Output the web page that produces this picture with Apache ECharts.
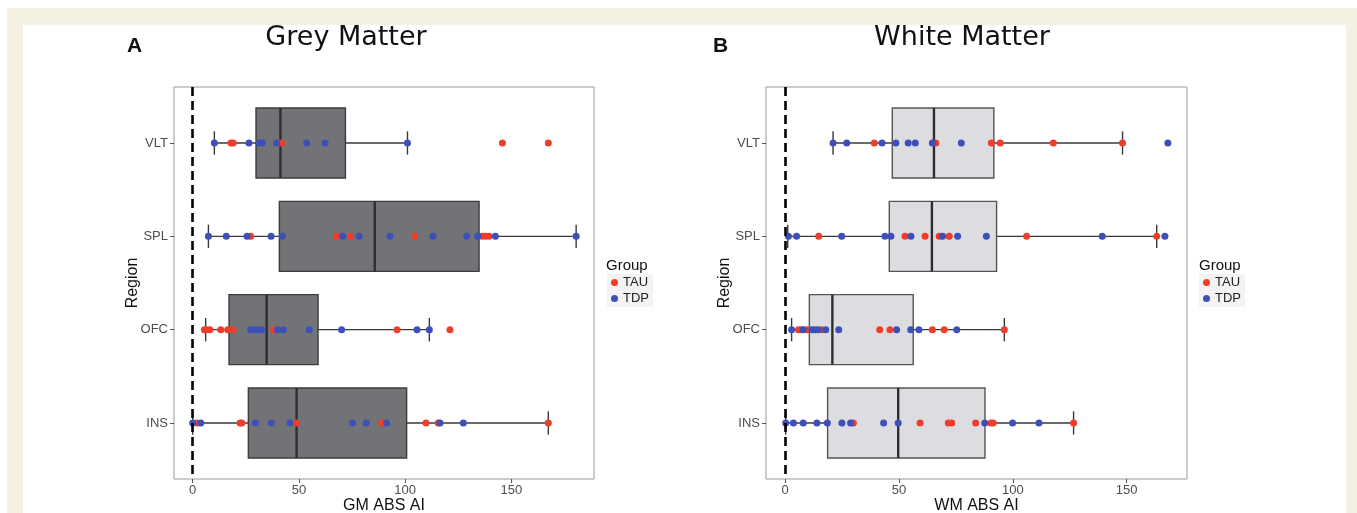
<!DOCTYPE html>
<html>
<head>
<meta charset="utf-8">
<script src="https://cdn.jsdelivr.net/npm/echarts@6/dist/echarts.min.js"></script>
<style>
  html, body { margin: 0; padding: 0; background: #fff; }
  #chart { width: 1357px; height: 513px; }
</style>
</head>
<body>
<div id="chart"></div>
<script>
// regions, top to bottom
var regions = ['VLT', 'SPL', 'OFC', 'INS'];
var xTicks = [0, 50, 100, 150];

// box stats per region: [whisker low, q1, median, q3, whisker high]
var gmBox = [
  [10.2, 29.8, 41.3, 71.9, 101.1],
  [7.4, 40.8, 85.7, 134.8, 180.5],
  [6.1, 17.1, 34.8, 59.0, 111.4],
  [0, 26.2, 48.9, 100.7, 167.4]
];
var wmBox = [
  [21.1, 47.1, 65.4, 91.7, 148.2],
  [1.2, 45.8, 64.5, 92.9, 163.2],
  [2.9, 10.7, 20.8, 56.3, 96.3],
  [0.3, 18.7, 49.7, 87.8, 126.7]
];

// individual values per region (same order as regions)
var gmTau = [
  [18.0, 19.1, 40.6, 41.9, 145.8, 167.4],
  [27.3, 67.6, 74.2, 104.5, 136.1, 137.9, 139.5],
  [5.5, 6.6, 8.1, 13.2, 16.5, 19.0, 38.1, 96.2, 121.1],
  [1.9, 22.3, 23.1, 48.9, 89.0, 109.8, 115.6, 167.4]
];
var gmTdp = [
  [10.2, 26.5, 31.4, 32.8, 39.5, 53.7, 62.3, 101.1],
  [7.4, 15.8, 25.6, 36.9, 42.2, 70.6, 78.3, 92.9, 113.1, 129.0, 134.2, 142.5, 180.5],
  [27.3, 28.9, 30.4, 32.5, 40.0, 42.7, 54.9, 70.1, 105.6, 111.4],
  [0, 3.8, 29.5, 37.0, 45.8, 75.3, 81.7, 91.3, 116.4, 127.4]
];
var wmTau = [
  [39.2, 66.2, 90.6, 94.5, 117.8, 148.2],
  [14.8, 52.7, 61.5, 67.7, 72.1, 106.1, 163.2],
  [5.9, 7.0, 9.8, 16.1, 41.6, 46.1, 64.7, 69.9, 96.3],
  [30.0, 59.3, 71.7, 73.2, 83.7, 90.4, 91.4, 126.7]
];
var wmTdp = [
  [21.1, 27.1, 42.6, 48.7, 54.1, 57.2, 64.7, 77.4, 168.1],
  [1.5, 5.1, 24.9, 43.9, 46.5, 55.3, 69.2, 75.8, 88.4, 139.3, 166.8],
  [2.9, 8.0, 11.9, 13.3, 14.6, 17.9, 23.6, 49.0, 55.2, 58.8, 75.4],
  [0.3, 3.7, 8.0, 14.0, 18.6, 25.0, 28.8, 43.3, 49.7, 87.7, 99.9, 111.5]
];

var TAU_COLOR = '#f03d2b';
var TDP_COLOR = '#3d4fb8';
var FONT = 'Liberation Sans, Arial, sans-serif';

function toPoints(groups) {
  var out = [];
  groups.forEach(function (vals, i) {
    vals.forEach(function (v) { out.push([v, i]); });
  });
  return out;
}
function toBoxes(stats) {
  return stats.map(function (s, i) { return [i].concat(s); });
}

function boxRenderer(fill, edge) {
  return function (params, api) {
    var cat = api.value(0);
    var p = function (k) { return api.coord([api.value(k), cat]); };
    var band = Math.abs(api.size([0, 1])[1]);
    var h = band * 0.375, cap = band * 0.125;
    var lo = p(1), q1 = p(2), md = p(3), q3 = p(4), hi = p(5);
    var y = lo[1];
    var ws = { stroke: '#3a3a3a', lineWidth: 1.4 };
    return {
      type: 'group',
      children: [
        { type: 'line', shape: { x1: lo[0], y1: y, x2: hi[0], y2: y }, style: ws },
        { type: 'line', shape: { x1: lo[0], y1: y - cap, x2: lo[0], y2: y + cap }, style: ws },
        { type: 'line', shape: { x1: hi[0], y1: y - cap, x2: hi[0], y2: y + cap }, style: ws },
        { type: 'rect', shape: { x: q1[0], y: y - h, width: q3[0] - q1[0], height: 2 * h },
          style: { fill: fill, stroke: edge, lineWidth: 1.4 } },
        { type: 'line', shape: { x1: md[0], y1: y - h, x2: md[0], y2: y + h },
          style: { stroke: '#2e2e2e', lineWidth: 2.4 } }
      ]
    };
  };
}

function xAxisOf(grid, min, max, name) {
  return {
    type: 'value', gridIndex: grid, min: min, max: max,
    name: name, nameLocation: 'middle', nameGap: 19, nameMoveOverlap: false,
    nameTextStyle: { fontSize: 16, color: '#111', fontFamily: FONT },
    axisLine: { show: false, onZero: false },
    axisTick: { show: true, customValues: xTicks, length: 4, lineStyle: { color: '#555' } },
    axisLabel: { customValues: xTicks, margin: 5, fontSize: 13, color: '#4d4d4d', fontFamily: FONT },
    splitLine: { show: false }
  };
}
function yAxisOf(grid) {
  return {
    type: 'value', gridIndex: grid, min: -0.6, max: 3.6, inverse: true,
    name: 'Region', nameLocation: 'middle', nameGap: 33, nameMoveOverlap: false,
    nameTextStyle: { fontSize: 16, color: '#111', fontFamily: FONT },
    axisLine: { show: false, onZero: false },
    axisTick: { show: true, customValues: [0, 1, 2, 3], length: 4, lineStyle: { color: '#555' } },
    axisLabel: {
      customValues: [0, 1, 2, 3], margin: 6, fontSize: 13, color: '#4d4d4d', fontFamily: FONT,
      formatter: function (v) { return regions[Math.round(v)]; }
    },
    splitLine: { show: false }
  };
}

function panelSeries(idx, box, tau, tdp, fill, edge) {
  return [
    {
      type: 'custom', xAxisIndex: idx, yAxisIndex: idx, z: 2,
      renderItem: boxRenderer(fill, edge),
      encode: { x: [1, 2, 3, 4, 5], y: 0 },
      data: toBoxes(box), silent: true
    },
    {
      name: 'TAU', type: 'scatter', xAxisIndex: idx, yAxisIndex: idx, z: 3,
      symbolSize: 7, itemStyle: { color: TAU_COLOR, opacity: 1 },
      data: toPoints(tau)
    },
    {
      name: 'TDP', type: 'scatter', xAxisIndex: idx, yAxisIndex: idx, z: 3,
      symbolSize: 7, itemStyle: { color: TDP_COLOR, opacity: 1 },
      data: toPoints(tdp),
      markLine: {
        silent: true, symbol: 'none', animation: false,
        label: { show: false },
        lineStyle: { color: '#000', type: [9, 5], width: 2.6 },
        data: [{ xAxis: 0 }]
      }
    }
  ];
}

function legendAt(left, top) {
  return {
    left: left, top: top, orient: 'vertical', icon: 'circle',
    itemWidth: 7, itemHeight: 7, itemGap: 3, padding: [2, 4],
    backgroundColor: '#f3f3f3',
    data: ['TAU', 'TDP'],
    textStyle: { fontSize: 13, color: '#222', fontFamily: FONT }
  };
}

function label(x, y, text, size, weight, family, align) {
  return {
    type: 'text', x: x, y: y, silent: true,
    style: { text: text, fontSize: size, fontWeight: weight, fontFamily: family,
      fill: '#111', align: align, verticalAlign: 'middle' }
  };
}

var gridBase = { top: 87, height: 392, show: true, borderColor: '#999', borderWidth: 1,
  backgroundColor: '#fff', outerBoundsMode: 'none', containLabel: false };

var chart = echarts.init(document.getElementById('chart'));
chart.setOption({
  animation: false,
  backgroundColor: '#ffffff',
  graphic: [
    { type: 'rect', shape: { x: 7, y: 8, width: 1350, height: 505 }, style: { fill: '#f4f1e3' }, silent: true, z: -10 },
    { type: 'rect', shape: { x: 23, y: 25, width: 1323, height: 488 }, style: { fill: '#ffffff' }, silent: true, z: -9 },
    label(127, 46, 'A', 21, 'bold', FONT, 'left'),
    label(346, 38, 'Grey Matter', 27, 'normal', 'DejaVu Sans', 'center'),
    label(713, 46, 'B', 21, 'bold', FONT, 'left'),
    label(962, 38, 'White Matter', 27, 'normal', 'DejaVu Sans', 'center'),
    label(606, 266, 'Group', 15, 'normal', FONT, 'left'),
    label(1199, 266, 'Group', 15, 'normal', FONT, 'left')
  ],
  legend: [legendAt(607, 274), legendAt(1199, 274)],
  grid: [
    Object.assign({ left: 174, width: 420 }, gridBase),
    Object.assign({ left: 766, width: 421 }, gridBase)
  ],
  xAxis: [
    xAxisOf(0, -8.8, 188.9, 'GM ABS AI'),
    xAxisOf(1, -8.34, 176.5, 'WM ABS AI')
  ],
  yAxis: [yAxisOf(0), yAxisOf(1)],
  series: panelSeries(0, gmBox, gmTau, gmTdp, '#727376', '#3c3c3c')
    .concat(panelSeries(1, wmBox, wmTau, wmTdp, '#dcdde0', '#555555'))
});
</script>
</body>
</html>
